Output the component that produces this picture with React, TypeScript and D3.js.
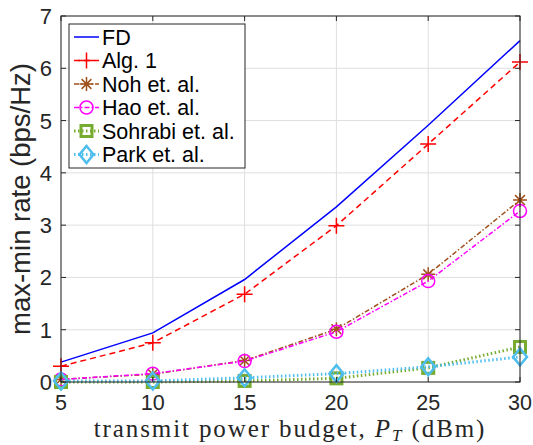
import React from "react";
import * as d3 from "d3";

const xValues = [5, 10, 15, 20, 25, 30];
const fd = [0.38, 0.94, 1.96, 3.35, 4.91, 6.53];
const alg1 = [0.3, 0.75, 1.68, 2.99, 4.55, 6.12];
const noh = [0.05, 0.15, 0.41, 1.01, 2.06, 3.48];
const hao = [0.05, 0.16, 0.4, 0.96, 1.93, 3.27];
const sohrabi = [0.0, 0.0, 0.02, 0.07, 0.27, 0.67];
const park = [0.02, 0.02, 0.08, 0.16, 0.29, 0.48];
const xTicks = [5, 10, 15, 20, 25, 30];
const yTicks = [0, 1, 2, 3, 4, 5, 6, 7];

type Marker = "none" | "plus" | "star" | "circle" | "square" | "diamond";
const seriesList: { name: string; values: number[]; color: string; dash: string; width: number; marker: Marker }[] = [
  { name: "FD", values: fd, color: "#0000ff", dash: "", width: 1.5, marker: "none" },
  { name: "Alg. 1", values: alg1, color: "#ff0000", dash: "6,4", width: 1.5, marker: "plus" },
  { name: "Noh et. al.", values: noh, color: "#a0501c", dash: "5,2,1.5,2", width: 1.5, marker: "star" },
  { name: "Hao et. al.", values: hao, color: "#ff00ff", dash: "5,2,1.5,2", width: 1.5, marker: "circle" },
  { name: "Sohrabi et. al.", values: sohrabi, color: "#77ac30", dash: "1.5,2.5", width: 3, marker: "square" },
  { name: "Park et. al.", values: park, color: "#4dbeee", dash: "1.5,2.5", width: 3, marker: "diamond" },
];

function MarkerShape({ type, x, y, color }: { type: Marker; x: number; y: number; color: string }) {
  const s = 8;
  if (type === "plus")
    return <path d={`M${x - s},${y}H${x + s}M${x},${y - s}V${y + s}`} stroke={color} strokeWidth={1.5} fill="none" />;
  if (type === "star") {
    const r = 7;
    const d = r * 0.7;
    return (
      <path
        d={`M${x - r},${y}H${x + r}M${x},${y - r}V${y + r}M${x - d},${y - d}L${x + d},${y + d}M${x - d},${y + d}L${x + d},${y - d}`}
        stroke={color}
        strokeWidth={1.5}
        fill="none"
      />
    );
  }
  if (type === "circle") return <circle cx={x} cy={y} r={6.5} stroke={color} strokeWidth={1.5} fill="none" />;
  if (type === "square")
    return <rect x={x - 5.5} y={y - 5.5} width={11} height={11} stroke={color} strokeWidth={3} fill="none" />;
  if (type === "diamond")
    return <path d={`M${x},${y - 8.5}L${x + 7},${y}L${x},${y + 8.5}L${x - 7},${y}Z`} stroke={color} strokeWidth={2.5} fill="none" />;
  return null;
}

export default function App() {
  const W = 533, H = 445;
  const left = 61, right = 520, top = 16, bottom = 382;
  const x = d3.scaleLinear().domain([5, 30]).range([left, right]);
  const y = d3.scaleLinear().domain([0, 7]).range([bottom, top]);
  const line = d3.line<number>().x((_, i) => x(xValues[i])).y((v) => y(v));
  const axisColor = "#262626";
  const sans = "'Liberation Sans', Arial, Helvetica, sans-serif";
  const serif = "'Liberation Serif', 'Times New Roman', serif";
  const legX = 69, legY = 24, legW = 176, legH = 144, rowH = 23.5;

  return (
    <svg width={W} height={H} style={{ position: "absolute", left: 0, top: 0 }}>
      <rect x={0} y={0} width={W} height={H} fill="#fff" />
      {xTicks.map((t) => (
        <line key={"gx" + t} x1={x(t)} x2={x(t)} y1={top} y2={bottom} stroke="#dfdfdf" strokeWidth={1} />
      ))}
      {yTicks.map((t) => (
        <line key={"gy" + t} x1={left} x2={right} y1={y(t)} y2={y(t)} stroke="#dfdfdf" strokeWidth={1} />
      ))}
      {seriesList.map((s) => (
        <g key={s.name}>
          <path d={line(s.values) || ""} stroke={s.color} strokeWidth={s.width} strokeDasharray={s.dash} fill="none" />
          {s.values.map((v, i) => (
            <MarkerShape key={i} type={s.marker} x={x(xValues[i])} y={y(v)} color={s.color} />
          ))}
        </g>
      ))}
      <rect x={left} y={top} width={right - left} height={bottom - top} fill="none" stroke={axisColor} strokeWidth={1} />
      {xTicks.map((t) => (
        <g key={"tx" + t}>
          <line x1={x(t)} x2={x(t)} y1={bottom} y2={bottom - 5} stroke={axisColor} />
          <line x1={x(t)} x2={x(t)} y1={top} y2={top + 5} stroke={axisColor} />
          <text x={x(t)} y={bottom + 28} textAnchor="middle" fontFamily={sans} fontSize={21.5} fill={axisColor}>
            {t}
          </text>
        </g>
      ))}
      {yTicks.map((t) => (
        <g key={"ty" + t}>
          <line x1={left} x2={left + 5} y1={y(t)} y2={y(t)} stroke={axisColor} />
          <line x1={right} x2={right - 5} y1={y(t)} y2={y(t)} stroke={axisColor} />
          <text x={left - 9} y={y(t) + 8} textAnchor="end" fontFamily={sans} fontSize={22} fill={axisColor}>
            {t}
          </text>
        </g>
      ))}
      <text
        transform={`translate(30,199) rotate(-90)`}
        textAnchor="middle"
        fontFamily={sans}
        fontSize={27.5}
        fill={axisColor}
      >
        max-min rate (bps/Hz)
      </text>
      <text x={290} y={437} textAnchor="middle" fontFamily={serif} fontSize={25} letterSpacing={1.9} fill={axisColor}>
        <tspan>transmit power budget, </tspan>
        <tspan fontStyle="italic">P</tspan>
        <tspan fontStyle="italic" fontSize={17} dy={4}>T</tspan>
        <tspan dy={-4}> (dBm)</tspan>
      </text>
      <rect x={legX} y={legY} width={legW} height={legH} fill="#fff" stroke={axisColor} strokeWidth={1} />
      {seriesList.map((s, i) => {
        const cy = legY + 13 + i * rowH;
        return (
          <g key={"leg" + s.name}>
            <line x1={74} x2={99} y1={cy} y2={cy} stroke={s.color} strokeWidth={s.width} strokeDasharray={s.dash} />
            <MarkerShape type={s.marker} x={86.5} y={cy} color={s.color} />
            <text x={102} y={cy + 7.5} fontFamily={sans} fontSize={21.5} fill="#000">
              {s.name}
            </text>
          </g>
        );
      })}
    </svg>
  );
}
